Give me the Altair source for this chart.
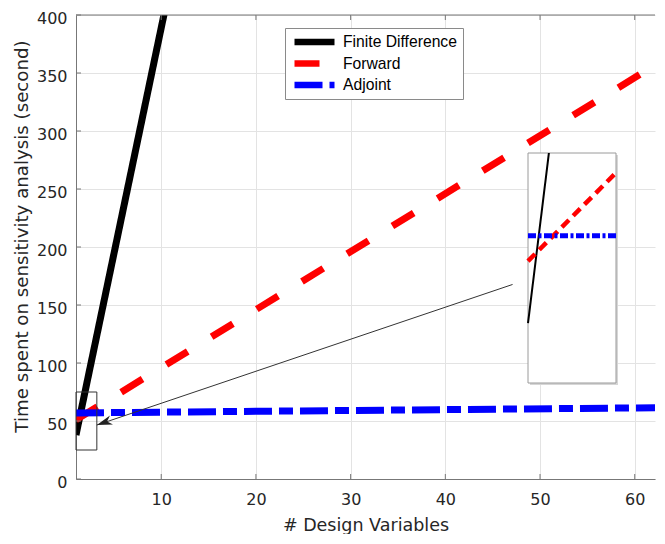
import altair as alt
import pandas as pd

FONT = "DejaVu Sans"
LFONT = "Liberation Sans"
W, H = 579, 464
TOP = 7  # top padding; plot area starts at page y = 8 + TOP

series = ["Finite Difference", "Forward", "Adjoint"]
series_colors = ["#000000", "#ff0000", "#0000ff"]
series_dashes = [[1, 0], [25, 28], [28, 7, 14, 7]]

# main curves
fd_n = [1, 11]
fd_t = [38, 428]
fw_n = [1, 63]
fw_t = [51, 361]
adj_n = [1, 63]
adj_t = [57, 61.5]

x_ticks = [10, 20, 30, 40, 50, 60]
y_ticks = [0, 50, 100, 150, 200, 250, 300, 350, 400]

# zoom box and arrow annotation
zoom_n = [1, 3.2]
zoom_t = [25, 75]
arrow_n = [47.1, 3.2]
arrow_t = [167.7, 46.5]

# inset (magnified view)
inset_n = [1, 5]
inset_t = [25, 75]
inset_fd_n = [1, 1.95]
inset_fd_t = [38, 75]
inset_fw_n = [1, 5]
inset_fw_t = [51.5, 70.7]
inset_adj_n = [1, 5]
inset_adj_t = [57, 57]

lines = pd.DataFrame({
    "series": [series[0]] * len(fd_n) + [series[1]] * len(fw_n) + [series[2]] * len(adj_n),
    "n": fd_n + fw_n + adj_n,
    "t": fd_t + fw_t + adj_t,
})

xs = alt.Scale(domain=[1, 62.14], nice=False, zero=False)
ys = alt.Scale(domain=[0, 400], nice=False, zero=False)

x_axis = alt.Axis(
    values=x_ticks, title="# Design Variables", grid=True, gridColor="#e3e3e3",
    ticks=False, domainColor="#777777", labelFont=FONT, labelFontSize=16,
    labelColor="#262626", labelPadding=12, titleFont=FONT, titleFontSize=17.5,
    titleFontWeight="normal", titleColor="#262626", titlePadding=9)
y_axis = alt.Axis(
    values=y_ticks, title="Time spent on sensitivity analysis (second)", grid=True,
    gridColor="#e3e3e3", ticks=False, domainColor="#777777", labelFont=FONT,
    labelFontSize=16, labelColor="#262626", labelPadding=9, labelOffset=3,
    titleFont=FONT, titleFontSize=18.2, titleFontWeight="normal", titleColor="#262626",
    titlePadding=5, titleY=236 - 8 - TOP)

legend = alt.Legend(
    title=None, orient="none", legendX=209, legendY=13,
    symbolType="stroke", symbolSize=1600, symbolStrokeWidth=6.5,
    labelFont=LFONT, labelFontSize=15.7, labelColor="#000000", labelLimit=400,
    labelOffset=5, fillColor="white", strokeColor="#8a8a8a", padding=6,
    rowPadding=5.5, clipHeight=16,
)

main_lines = alt.Chart(lines).mark_line(strokeWidth=7, clip=True, strokeCap="butt").encode(
    x=alt.X("n:Q", scale=xs, axis=x_axis),
    y=alt.Y("t:Q", scale=ys, axis=y_axis),
    color=alt.Color("series:N", scale=alt.Scale(domain=series, range=series_colors), legend=legend),
    strokeDash=alt.StrokeDash("series:N", scale=alt.Scale(domain=series, range=series_dashes), legend=legend),
)

xt = pd.DataFrame({"n": x_ticks})
yt = pd.DataFrame({"t": y_ticks})
tick_bottom = alt.Chart(xt).mark_rule(color="#777777", strokeWidth=1).encode(
    x=alt.X("n:Q", scale=xs, axis=x_axis), y=alt.value(H), y2=alt.value(H - 5))
tick_top = alt.Chart(xt).mark_rule(color="#777777", strokeWidth=1).encode(
    x=alt.X("n:Q", scale=xs, axis=x_axis), y=alt.value(0), y2=alt.value(5))
tick_left = alt.Chart(yt).mark_rule(color="#777777", strokeWidth=1).encode(
    y=alt.Y("t:Q", scale=ys, axis=y_axis), x=alt.value(0), x2=alt.value(5))
top_border = alt.Chart(pd.DataFrame({"a": [0]})).mark_rule(color="#777777", strokeWidth=1).encode(
    x=alt.value(0), x2=alt.value(W), y=alt.value(0))

zoom_df = pd.DataFrame({"n": [zoom_n[0]], "n2": [zoom_n[1]], "t": [zoom_t[0]], "t2": [zoom_t[1]]})
zoom_box = alt.Chart(zoom_df).mark_rect(fill="transparent", stroke="#333333", strokeWidth=1).encode(
    x=alt.X("n:Q", scale=xs, axis=x_axis), x2="n2:Q",
    y=alt.Y("t:Q", scale=ys, axis=y_axis), y2="t2:Q")

arrow_df = pd.DataFrame({"n": arrow_n, "t": arrow_t, "k": [0, 1]})
arrow_line = alt.Chart(arrow_df).mark_line(color="#333333", strokeWidth=1).encode(
    x=alt.X("n:Q", scale=xs, axis=x_axis), y=alt.Y("t:Q", scale=ys, axis=y_axis), order="k:Q")
arrow_head = alt.Chart(arrow_df.iloc[[1]]).mark_point(
    shape="M0,0L0.6,2L0,1.4L-0.6,2Z", filled=True, color="#222222", size=240, opacity=1,
    angle=251).encode(
    x=alt.X("n:Q", scale=xs, axis=x_axis), y=alt.Y("t:Q", scale=ys, axis=y_axis))

main = alt.layer(main_lines, zoom_box, arrow_line, arrow_head,
                 tick_bottom, tick_top, tick_left, top_border)

# inset layer with its own scales placed in the plot area (page box x 528-616, y 153-383)
ixs = alt.Scale(domain=inset_n, range=[452, 540], nice=False, zero=False)
iys = alt.Scale(domain=inset_t, range=[383 - 8 - TOP, 153 - 8 - TOP], nice=False, zero=False)
inset_df = pd.DataFrame({"n": [inset_n[0]], "n2": [inset_n[1]], "t": [inset_t[0]], "t2": [inset_t[1]]})
inset_shadow = alt.Chart(inset_df).mark_rect(
    fill="#d6d6d6", xOffset=2, x2Offset=2, yOffset=2, y2Offset=2).encode(
    x=alt.X("n:Q", scale=ixs, axis=None), x2="n2:Q",
    y=alt.Y("t:Q", scale=iys, axis=None), y2="t2:Q")
inset_box = alt.Chart(inset_df).mark_rect(fill="white", stroke="#9a9a9a", strokeWidth=1).encode(
    x=alt.X("n:Q", scale=ixs, axis=None), x2="n2:Q",
    y=alt.Y("t:Q", scale=iys, axis=None), y2="t2:Q")


def inset_line(nv, tv, color, width, dash):
    df = pd.DataFrame({"n": nv, "t": tv})
    return alt.Chart(df).mark_line(color=color, strokeWidth=width, strokeDash=dash,
                                   strokeCap="butt").encode(
        x=alt.X("n:Q", scale=ixs, axis=None), y=alt.Y("t:Q", scale=iys, axis=None))


inset = alt.layer(
    inset_shadow, inset_box,
    inset_line(inset_fd_n, inset_fd_t, "#000000", 2, [1, 0]),
    inset_line(inset_fw_n, inset_fw_t, "#ff0000", 4.5, [10, 6]),
    inset_line(inset_adj_n, inset_adj_t, "#0000ff", 5, [8, 2.5, 3, 2.5]),
)

chart = alt.layer(main, inset).resolve_scale(x="independent", y="independent").properties(
    width=W, height=H,
    autosize=alt.AutoSizeParams(type="none"),
    padding={"left": 68, "top": TOP, "right": 2, "bottom": 55},
).configure_view(stroke=None)

chart.save("out.html", embed_options={"renderer": "svg", "actions": False})
